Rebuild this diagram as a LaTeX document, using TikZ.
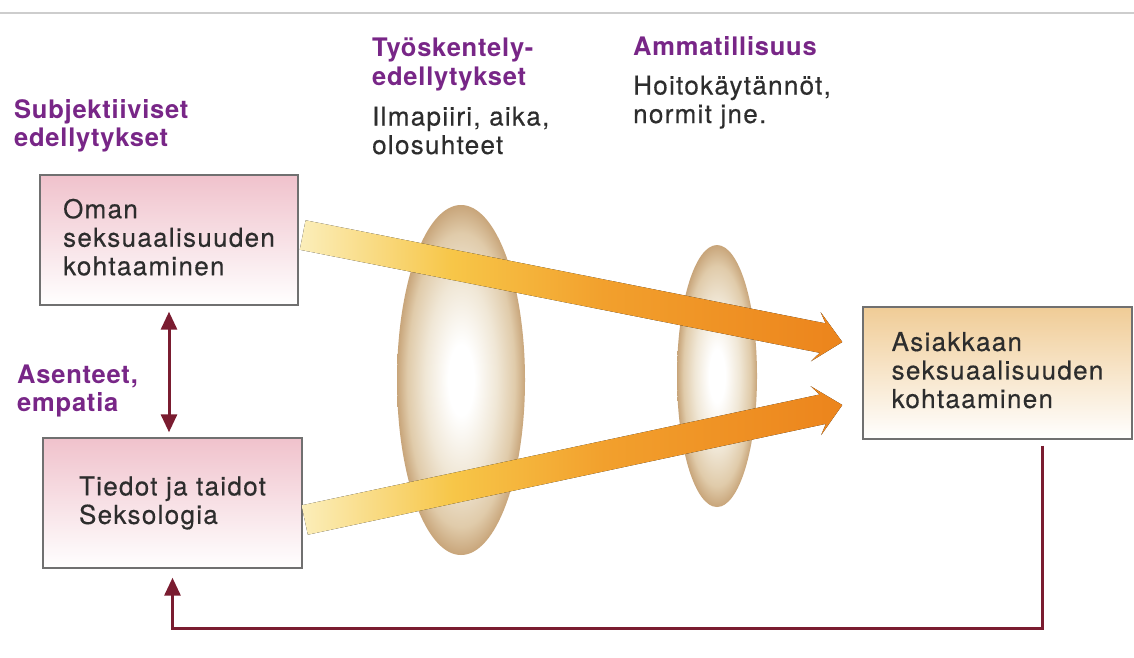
\documentclass[tikz,border=0pt]{standalone}
\usepackage{fontspec}
\usetikzlibrary{shapes.geometric,arrows.meta,calc}
\newfontfamily\txfont{TeX Gyre Heros}[LetterSpace=5, FakeBold=0.4]
\newfontfamily\hdfont{TeX Gyre Heros}[LetterSpace=3]
\definecolor{hdpurple}{RGB}{120,38,135}
\definecolor{txgray}{RGB}{45,45,45}
\definecolor{boxgray}{RGB}{112,112,112}
\definecolor{rulegray}{RGB}{205,205,205}
\definecolor{maroon}{RGB}{122,28,48}
\definecolor{boxpink}{RGB}{240,194,204}
\definecolor{boxsand}{RGB}{240,204,150}
\definecolor{arrowL}{RGB}{251,238,186}
\definecolor{arrowY}{RGB}{247,198,72}
\definecolor{arrowO}{RGB}{242,160,45}
\definecolor{arrowR}{RGB}{236,132,28}
\definecolor{lensmid}{RGB}{240,231,214}
\definecolor{lensmidb}{RGB}{224,203,170}
\definecolor{lensedge}{RGB}{200,165,122}
\pgfdeclareradialshading{lensshade}{\pgfpoint{0bp}{0bp}}{color(0bp)=(white); color(5bp)=(white); color(14bp)=(lensmid); color(21bp)=(lensmidb); color(25bp)=(lensedge); color(50bp)=(lensedge)}
\pgfdeclarehorizontalshading{goldshade}{100bp}{color(0bp)=(arrowL); color(25bp)=(arrowL); color(39bp)=(arrowY); color(53bp)=(arrowO); color(75bp)=(arrowR); color(100bp)=(arrowR)}
\begin{document}
\begin{tikzpicture}[x=1pt,y=-1pt,
  box/.style={draw=boxgray, line width=1.4pt, rectangle, inner sep=0pt, align=left,
    text=txgray, font=\txfont\fontsize{26}{28.5}\selectfont},
  head/.style={text=hdpurple, align=left, inner sep=0pt, anchor=base west,
    font=\hdfont\bfseries\fontsize{25.5}{28.5}\selectfont},
  note/.style={text=txgray, align=left, inner sep=0pt, anchor=base west,
    font=\txfont\fontsize{26}{28.5}\selectfont},
  lens/.style={ellipse, draw=none, shading=lensshade, inner sep=0pt},
  link/.style={draw=maroon, line width=3pt},
  golden/.style={shading=goldshade, draw=none}
]
\useasboundingbox (0,0) rectangle (1134,657);
\fill[white] (0,0) rectangle (1134,657);
\draw[rulegray, line width=1.2pt] (0,13) -- (1134,13);

% headings (base anchor = baseline of the last line)
\node[head] (lblSubj) at (14,146.5) {Subjektiiviset\\edellytykset};
\node[head] (lblAsen) at (17,411.5) {Asenteet,\\empatia};
\node[head] (lblTyo) at (372,85) {Työskentely-\\edellytykset};
\node[note] (lblIlma) at (372,154) {Ilmapiiri, aika,\\olosuhteet};
\node[head] (lblAmm) at (633,55) {Ammatillisuus};
\node[note] (lblHoito) at (633,123) {Hoitokäytännöt,\\normit jne.};

% boxes
\node[box, top color=boxpink, middle color=boxpink!40!white, bottom color=white,
      minimum width=258pt, minimum height=130pt] (oman) at (169,240)
      {Oman\\seksuaalisuuden\\kohtaaminen\rule[-6pt]{0pt}{0pt}};
\node[box, top color=boxpink, middle color=boxpink!40!white, bottom color=white,
      minimum width=259pt, minimum height=130pt] (tiedot) at (172.5,503)
      {Tiedot ja taidot\\Seksologia};
\node[box, top color=boxsand, middle color=boxsand!45!white, bottom color=white,
      minimum width=269pt, minimum height=132pt] (asiakas) at (997.5,373)
      {Asiakkaan\\seksuaalisuuden\\kohtaaminen\rule[-6pt]{0pt}{0pt}};

% lenses
\node[lens, minimum width=128pt, minimum height=350pt] (lens1) at (461,380) {};
\node[lens, minimum width=80pt, minimum height=262pt] (lens2) at (717,376) {};

% broad arrows
\coordinate (u0) at ($(oman.east)+(4,-5)$);
\coordinate (u1) at ($(asiakas.west)+(-20,-31)$);
\coordinate (uh) at ($(u1)!20pt!(u0)$);
\coordinate (ub) at ($(u1)!27pt!(u0)$);
\fill[golden] ($(u0)!15pt!90:(u1)$) -- ($(uh)!15pt!90:(u1)$) -- ($(ub)!25pt!90:(u1)$)
  -- (u1) -- ($(ub)!25pt!-90:(u1)$) -- ($(uh)!15pt!-90:(u1)$) -- ($(u0)!15pt!-90:(u1)$) -- cycle;

\coordinate (l0) at ($(tiedot.east)+(2,17)$);
\coordinate (l1) at ($(asiakas.west)+(-20,32)$);
\coordinate (lh) at ($(l1)!20pt!(l0)$);
\coordinate (lb) at ($(l1)!27pt!(l0)$);
\fill[golden] ($(l0)!15pt!90:(l1)$) -- ($(lh)!15pt!90:(l1)$) -- ($(lb)!25pt!90:(l1)$)
  -- (l1) -- ($(lb)!25pt!-90:(l1)$) -- ($(lh)!15pt!-90:(l1)$) -- ($(l0)!15pt!-90:(l1)$) -- cycle;

% maroon connectors
\draw[link, {Triangle[width=16pt,length=18pt]}-{Triangle[width=16pt,length=18pt]},
      shorten <=6pt, shorten >=5pt] (oman.south) -- (oman.south |- tiedot.north);
\coordinate (fbR) at (1042,628);
\coordinate (fbS) at ($(asiakas.south west)!0.668!(asiakas.south east)$);
\draw[link, -{Triangle[width=16pt,length=18pt]}, shorten <=6pt, shorten >=9pt]
  (fbS) -- (fbS |- fbR) -| (tiedot.south);
\end{tikzpicture}
\end{document}
